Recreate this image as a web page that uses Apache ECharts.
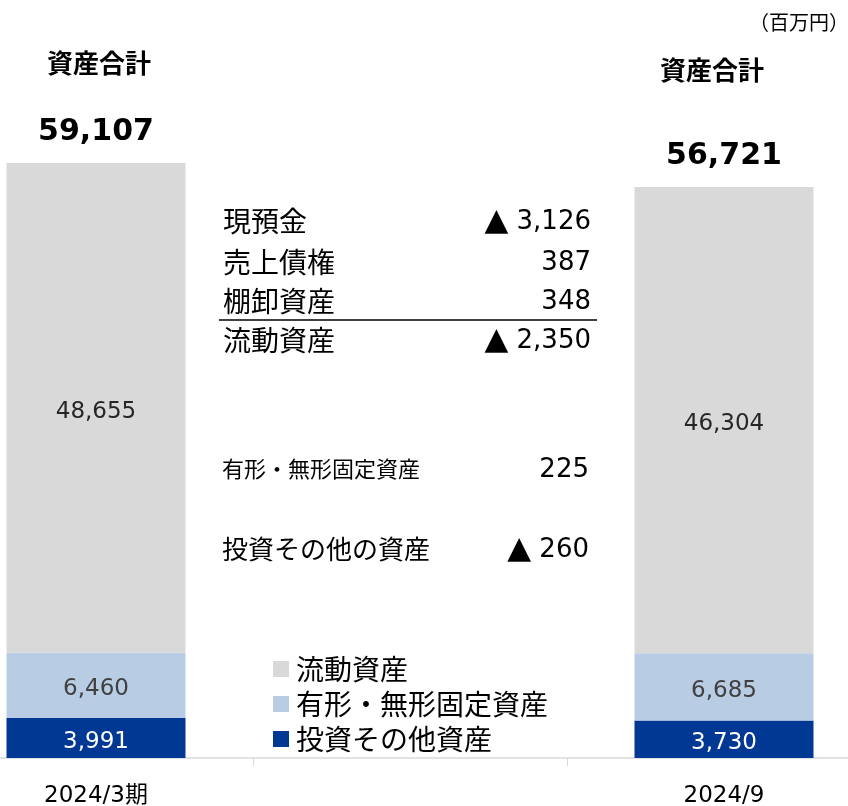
<!DOCTYPE html>
<html>
<head>
<meta charset="utf-8"/>
<title>資産合計</title>
<script src="https://cdn.jsdelivr.net/npm/echarts@6/dist/echarts.min.js"></script>
<style>
html,body{margin:0;padding:0;background:#fff;}
#main{width:848px;height:806px;}
</style>
</head>
<body>
<div id="main"></div>
<script type="text/javascript">
var categories = ['2024/3期', '', '2024/9'];
var seriesNames = ['流動資産', '有形・無形固定資産', '投資その他資産'];
var investValues = [3991, null, 3730];
var fixedValues = [6460, null, 6685];
var currentValues = [48655, null, 46304];
var totalValues = [59107, null, 56721];
var changeNames = ['現預金', '売上債権', '棚卸資産', '流動資産'];
var changeValues = [-3126, 387, 348, -2350];
var fixedChangeName = '有形・無形固定資産';
var fixedChange = 225;
var investChangeName = '投資その他の資産';
var investChange = -260;

var JP = '"Noto Sans CJK JP", sans-serif';
var NUM = '"DejaVu Sans", "Noto Sans CJK JP", sans-serif';

function fmt(v){
	var s = Math.abs(v).toLocaleString('en-US');
	return v < 0 ? '▲ ' + s : s;
}

var myChart = echarts.init(document.getElementById('main'));

function txt(s, x, y, align, font){
	return {type:'text', style:{text:s, x:x, y:y, textAlign:align, textVerticalAlign:'middle', font:font, fill:'#000'}};
}
// 増減額: ▲ は少し大きめに
function numTxt(v, x, y){
	var s = Math.abs(v).toLocaleString('en-US');
	return {type:'text', style:{
		text: v < 0 ? '{t|▲} ' + s : s,
		x:x, y:y, textAlign:'right', textVerticalAlign:'middle',
		font:'26px ' + NUM, fill:'#000',
		rich:{t:{fontFamily:'DejaVu Sans', fontSize:31, fill:'#000'}}
	}};
}
var graphics = [
	txt('（百万円）', 849, 22, 'right', '20px ' + JP),
	txt('資産合計', 99, 63, 'center', 'bold 26px ' + JP),
	txt('資産合計', 712, 70, 'center', 'bold 26px ' + JP),
	{type:'line', shape:{x1:219, y1:320, x2:597, y2:320}, style:{stroke:'#000', lineWidth:1.5}}
];
var rowY = [221, 262, 301, 340];
for (var r = 0; r < changeNames.length; r++) {
	graphics.push(txt(changeNames[r], 223, rowY[r], 'left', '28px ' + JP));
	graphics.push(numTxt(changeValues[r], 591, rowY[r] + 1));
}
graphics.push(txt(fixedChangeName, 222, 469, 'left', '22px ' + JP));
graphics.push(numTxt(fixedChange, 589, 470));
graphics.push(txt(investChangeName, 222, 549, 'left', '26px ' + JP));
graphics.push(numTxt(investChange, 589, 550));

function numLabel(color){
	return {show: true, position: 'inside', offset: [0, 4], color: color, fontSize: 23, fontFamily: NUM,
		formatter: function(p){return fmt(p.value);}};
}

var option = {
	animation: false,
	backgroundColor: '#fff',
	textStyle: {fontFamily: JP},
	grid: {left: -61, right: -33, top: 154, bottom: 48, outerBoundsMode: 'none', containLabel: false},
	legend: {
		orient: 'vertical', left: 268, top: 650,
		itemWidth: 16, itemHeight: 16, itemGap: 7,
		icon: 'rect',
		textStyle: {fontSize: 28, color: '#000', fontFamily: JP, padding: [0, 0, 0, 2]},
		data: seriesNames
	},
	xAxis: {
		type: 'category', data: categories,
		axisLine: {show: true, lineStyle: {color: '#d9d9d9', width: 1.5}},
		axisTick: {show: true, length: 8, lineStyle: {color: '#d9d9d9'}},
		axisLabel: {fontSize: 23, color: '#000', margin: 27, fontFamily: NUM}
	},
	yAxis: {
		type: 'value', min: 0, max: 60000, show: false,
		splitLine: {show: false}
	},
	series: [
		{name: seriesNames[2], type: 'bar', stack: 'a', barWidth: '57%', data: investValues,
			itemStyle: {color: '#003893'}, label: numLabel('#ffffff')},
		{name: seriesNames[1], type: 'bar', stack: 'a', data: fixedValues,
			itemStyle: {color: '#b8cce4'}, label: numLabel('#404040')},
		{name: seriesNames[0], type: 'bar', stack: 'a', data: currentValues,
			itemStyle: {color: '#d9d9d9'}, label: numLabel('#262626')},
		{name: 'total', type: 'bar', stack: 'a', data: totalValues.map(function(v){return v == null ? null : 0;}),
			itemStyle: {color: 'transparent'},
			label: {show: true, position: 'top', distance: 16, color: '#000', fontSize: 30, fontWeight: 'bold', fontFamily: NUM,
				formatter: function(p){return totalValues[p.dataIndex] == null ? '' : fmt(totalValues[p.dataIndex]);}}}
	],
	graphic: graphics
};
myChart.setOption(option);
</script>
</body>
</html>
